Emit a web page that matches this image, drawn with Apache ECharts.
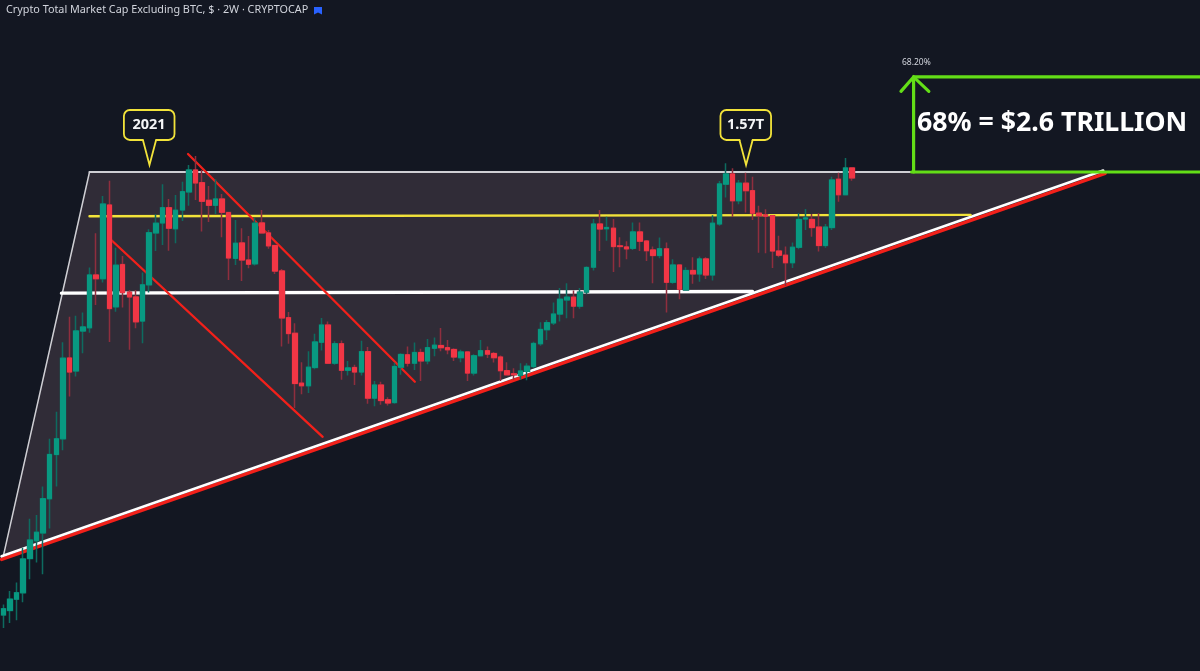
<!DOCTYPE html>
<html>
<head>
<meta charset="utf-8">
<style>
  html, body { margin: 0; padding: 0; background: #131722; }
  #main { width: 1200px; height: 671px; }
</style>
<script src="https://cdn.jsdelivr.net/npm/echarts@6/dist/echarts.min.js"></script>
</head>
<body>
<div id="main"></div>
<script>
// total market cap excl. BTC, in $ billions, one candle per 2 weeks
const opens = [140,143.4,152.6,158,190.4,209.9,219,264,336,366,569,530,659,671,895,877,1311,752,947,815,794,696,848,1126,1189,1292,1152,1276,1408,1587,
  1481,1345,1309,1355,1258,980,1066,971,951,1189,1126,1051,915,709,651,496,489,540,620,681,553,615,532,540,527,589,457,491,453,446,
  541,579,553,586,560,600,609,602,596,570,588,524,576,592,583,572,531,522,518,529,543,615,664,689,723,781,793,755,816,934,
  1182,1152,1155,1049,1043,1035,1132,1077,1026,995,1032,860,945,825,917,900,977,895,1182,1469,1553,1342,1477,1418,1254,1242,1237,1020,997,957,
  1041,1215,1212,1162,1051,1159,1509,1387,1605];
const closes = [144.8,152.6,158,190,210.6,219.8,264,336,366,568.4,527,659.5,674,895,877,1318,745,944,813,794,693,848,1127,1187,1292,1155,1274,1410,1587,1479,
  1338,1309,1355,1260,982,1064,971,949,1187,1126,1049,914,708,650,495,489,541,621,681,553,615,532,539,527,589,457,491,451,445,543,
  580,553,586,560,602,610,602,595,572,588,524,576,592,581,570,531,519,519,530,544,616,665,690,723,784,793,755,815,932,1182,
  1150,1159,1045,1045,1032,1132,1076,1022,995,1033,860,945,828,917,900,977,895,1187,1471,1553,1342,1477,1418,1254,1237,1233,1020,997,957,1041,
  1212,1222,1159,1051,1162,1503,1387,1605,1520];
const lows = [130.4,134,136,150,170,186.3,174.8,224.5,282,343.7,461,514,584,653,760,859,621,732,749,595,669,617,813,1020,1054,1022,1064,1202,1306,1347,
  1134,1195,1249,1099,871,945,866,929,942,1124,1032,900,606,615,433,467,470,535,593,553,548,505,517,491,517,443,437,441,439,443,
  519,543,533,502,550,574,590,581,560,556,502,517,574,569,555,502,517,505,505,504,538,608,628,681,694,707,707,744,806,917,
  1020,1079,909,934,975,1026,1020,966,856,980,729,853,784,821,853,863,876,868,1170,1365,1230,1316,1258,1208,1011,1008,930,986,843,930,
  1030,1144,1103,1017,1039,1144,1335,1385,1497];
const highs = [148.2,159.5,167,202,236.7,241.5,282,366,424,620,713,716,729,932,1124,1377,1497,1039,993,825,825,907,1148.5,1247,1469,1355,1385,1489,1631,1714,
  1587,1455,1509,1393,1258,1208,1155,1107,1222,1276,1144,1054,924,731,688,556,590,649,708,694,623,626,560,548,625,604,502,500,459,554,
  584,606,619,598,631,636,670,628,600,595,590,581,628,606,588,577,556,538,553,553,622,691,700,770,833,856,822,833,938,1215,
  1276,1230,1215,1099,1076,1191,1191,1083,1045,1098,1068,975,949,934,986,990,986,1240,1495,1647,1602,1503,1564,1530,1306,1281,1237,1109,1045,1068,
  1254,1283,1249,1254,1182,1530,1564,1695,1605];

// trendlines as [bar, cap] pairs
const wedgeFill = [[0.05,194.5],[13,1570],[165.9,1570]];
const wedgeTop = [[13,1570],[137.3,1570]];
const wedgeLeft = [[0.05,194.5],[13,1570]];
const wedgeBase = [[-0.26,192.8],[165.9,1583]];
const wedgeBaseRed = [[-0.26,189.5],[166.2,1558]];
const midWhite = [[8.77,810.5],[113,817.5]];
const midYellow = [[13,1233],[145.9,1242]];
const channelUpper = [[27.86,1732],[62.07,499.6]];
const channelLower = [[16.28,1083],[48.17,370]];
const targetTop = [[137.3,2637],[181,2637]];
const targetBottom = [[137,1570],[181,1570]];
const targetStem = [[137.3,1570],[137.3,2637]];
const targetHead = [[135.4,2437],[137.3,2637],[139.6,2437]];

// callouts: [bar, cap at the pointer tip, text]
const callouts = [[22.05,1631,'2021'],[112.03,1631,'1.57T']];

const TOTAL_BARS = 181;
const startDate = new Date(Date.UTC(2020, 9, 5));
const categories = [];
for (let i = 0; i < TOTAL_BARS; i++) {
  categories.push(new Date(startDate.getTime() + i * 14 * 86400000).toISOString().slice(0, 10));
}

const UP = '#089981', DOWN = '#f23645', UP_WICK = '#0d6b60', DOWN_WICK = '#8f2e3e';
const YELLOW = '#f2e33a', GREEN = '#63de17', RED = '#f2201a';

const wickData = opens.map((o, i) => [o, closes[i], lows[i], highs[i]]);
const bodyData = opens.map((o, i) => [o, closes[i], Math.min(o, closes[i]), Math.max(o, closes[i])]);

function trendline(points, color, width, z) {
  return {
    type: 'line', xAxisIndex: 1, yAxisIndex: 0, data: points, z: z,
    showSymbol: false, silent: true, animation: false,
    lineStyle: { color: color, width: width, cap: 'round', join: 'miter' }
  };
}

const chart = echarts.init(document.getElementById('main'));
chart.setOption({
  animation: false,
  backgroundColor: '#131722',
  grid: { left: -1.6, top: 0, width: 1203.65, height: 671 },
  xAxis: [
    { type: 'category', data: categories, show: false },
    { type: 'value', min: -0.5, max: TOTAL_BARS - 0.5, show: false }
  ],
  yAxis: { type: 'log', logBase: 10, min: 103.1, max: 4013, show: false },
  series: [
    {
      type: 'custom', xAxisIndex: 1, yAxisIndex: 0, z: 1, silent: true, clip: false,
      data: wedgeFill,
      renderItem: function (params, api) {
        if (params.dataIndex !== 0) return null;
        return {
          type: 'polygon',
          shape: { points: wedgeFill.map(p => api.coord(p)) },
          style: { fill: '#302c37' }
        };
      }
    },
    trendline(wedgeLeft, '#cfcfd4', 1.5, 2),
    trendline(wedgeTop, '#cfcfd4', 2, 2),
    trendline(wedgeBaseRed, RED, 3.4, 2),
    trendline(wedgeBase, '#ffffff', 2.6, 2),
    trendline(midWhite, '#ffffff', 3.4, 2),
    trendline(midYellow, YELLOW, 2.4, 2),
    trendline(channelUpper, RED, 2.3, 2),
    trendline(channelLower, RED, 2.3, 2),
    trendline(targetBottom, GREEN, 3.2, 2),
    trendline(targetTop, GREEN, 3.2, 2),
    trendline(targetStem, GREEN, 3.2, 2),
    trendline(targetHead, GREEN, 3.2, 2),
    {
      type: 'candlestick', data: wickData, barWidth: 5, z: 3, silent: true,
      itemStyle: { color: UP_WICK, color0: DOWN_WICK, borderColor: UP_WICK, borderColor0: DOWN_WICK, borderWidth: 1.5 }
    },
    {
      type: 'candlestick', data: bodyData, barWidth: 5, z: 4, silent: true,
      itemStyle: { color: UP, color0: DOWN, borderColor: UP, borderColor0: DOWN, borderWidth: 1 }
    },
    {
      type: 'custom', xAxisIndex: 1, yAxisIndex: 0, z: 5, silent: true, clip: false,
      data: callouts,
      encode: { x: 0, y: 1 },
      renderItem: function (params, api) {
        const tip = api.coord([api.value(0), api.value(1)]);
        const label = callouts[params.dataIndex][2];
        const left = tip[0] - 25.6, top = tip[1] - 55, boxW = 50.6, boxH = 30;
        const baseY = top + boxH;
        return {
          type: 'group',
          children: [
            { type: 'rect', shape: { x: left, y: top, width: boxW, height: boxH, r: 6 },
              style: { fill: '#131722', stroke: YELLOW, lineWidth: 1.8 } },
            { type: 'polygon', shape: { points: [[tip[0] - 6, baseY - 1], [tip[0] + 6, baseY - 1], [tip[0], tip[1]]] },
              style: { fill: '#131722' } },
            { type: 'polyline', shape: { points: [[tip[0] - 6.6, baseY], [tip[0], tip[1]], [tip[0] + 6.6, baseY]] },
              style: { fill: 'none', stroke: YELLOW, lineWidth: 1.8 } },
            { type: 'text', x: tip[0] - 0.5, y: top + boxH / 2,
              style: { text: label, fill: '#f4f5f7', font: 'bold 14.5px "Noto Sans"', align: 'center', verticalAlign: 'middle' } }
          ]
        };
      }
    }
  ],
  graphic: [
    { type: 'text', left: 6, top: 4, z: 10,
      style: { text: 'Crypto Total Market Cap Excluding BTC, $ · 2W · CRYPTOCAP', fill: '#d1d4dc', font: '10.8px "Noto Sans"' } },
    { type: 'polygon', z: 10,
      shape: { points: [[314, 7], [322, 7], [322, 14.5], [318, 12.5], [314, 14.5]] },
      style: { fill: '#2962ff' } },
    { type: 'text', left: 902, top: 58, z: 10,
      style: { text: '68.20%', fill: '#d1d4dc', font: '8.5px "Noto Sans"' } },
    { type: 'text', left: 917, top: 110, z: 10,
      style: { text: '68% = $2.6 TRILLION', fill: '#ffffff', font: 'bold 26.7px "Noto Sans"' } }
  ]
});
</script>
</body>
</html>
